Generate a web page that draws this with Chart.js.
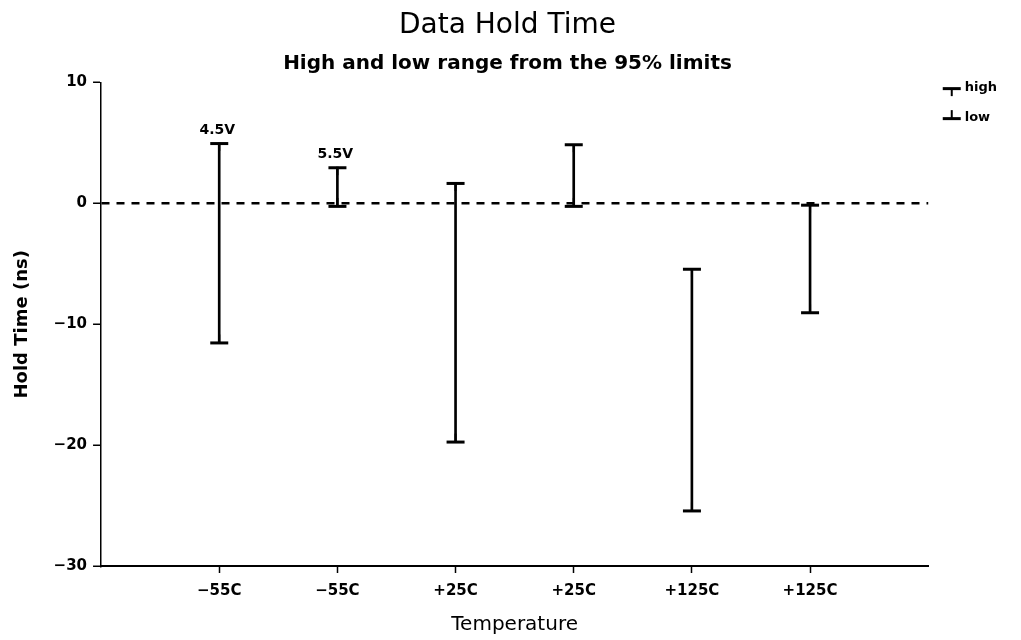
<!DOCTYPE html>
<html>
<head>
<meta charset="utf-8">
<script src="https://cdn.jsdelivr.net/npm/chart.js@4.4.1/dist/chart.umd.min.js"></script>
<style>
html, body { margin: 0; padding: 0; background: #fff; }
#wrap { width: 1021px; height: 640px; }
</style>
</head>
<body>
<div id="wrap"><canvas id="holdChart"></canvas></div>
<script>
const temps = ['−55C', '−55C', '+25C', '+25C', '+125C', '+125C'];
const highs = [5.0, 3.0, 1.7, 4.9, -5.4, -0.1];
const lows = [-11.5, -0.2, -19.7, -0.2, -25.4, -9.0];
const voltNotes = ['4.5V', '5.5V', '', '', '', ''];
const yTicks = [10, 0, -10, -20, -30];

const FONT = '"DejaVu Sans", sans-serif';

// cap marker: a bar with a short stub, up = stub hangs down (high), else stub points up (low)
function capImage(up) {
    const c = document.createElement('canvas');
    c.width = 20;
    c.height = 20;
    const g = c.getContext('2d');
    g.fillStyle = '#000';
    g.fillRect(1, 9, 18, 3);
    if (up) g.fillRect(9, 11, 2, 7);
    else g.fillRect(9, 2, 2, 8);
    return c;
}

const voltNotePlugin = {
    id: 'voltNotes',
    afterDatasetsDraw(chart) {
        const { ctx, scales: { x, y } } = chart;
        ctx.save();
        ctx.font = 'bold 14px ' + FONT;
        ctx.fillStyle = '#000';
        ctx.textAlign = 'center';
        ctx.textBaseline = 'bottom';
        voltNotes.forEach((txt, i) => {
            if (!txt) return;
            ctx.fillText(txt, x.getPixelForValue(i + 1) - 2, y.getPixelForValue(highs[i]) - 6);
        });
        ctx.restore();
    }
};

const ctx = document.getElementById('holdChart').getContext('2d');
new Chart(ctx, {
    type: 'bar',
    data: {
        datasets: [
            {
                label: 'range',
                data: temps.map((t, i) => ({ x: i + 1, y: [lows[i], highs[i]] })),
                backgroundColor: '#000',
                barThickness: 2
            },
            {
                type: 'scatter',
                label: 'high',
                data: temps.map((t, i) => ({ x: i + 1, y: highs[i] })),
                pointStyle: capImage(true),
                pointRadius: 10
            },
            {
                type: 'scatter',
                label: 'low',
                data: temps.map((t, i) => ({ x: i + 1, y: lows[i] })),
                pointStyle: capImage(false),
                pointRadius: 10
            }
        ]
    },
    options: {
        responsive: true,
        maintainAspectRatio: false,
        animation: false,
        layout: { padding: { left: 8, right: 14, top: 0, bottom: 1 } },
        plugins: {
            title: {
                display: true,
                text: 'Data Hold Time',
                color: '#000',
                font: { family: FONT, size: 28, weight: 'normal' },
                padding: { top: 9, bottom: 4 }
            },
            subtitle: {
                display: true,
                text: 'High and low range from the 95% limits',
                color: '#000',
                font: { family: FONT, size: 20, weight: 'bold' },
                padding: { top: 5, bottom: 7 }
            },
            legend: {
                position: 'right',
                align: 'start',
                title: {
                    display: true,
                    text: ' ',
                    font: { family: FONT, size: 13 },
                    padding: { top: 49, bottom: 0 }
                },
                labels: {
                    usePointStyle: true,
                    color: '#000',
                    font: { family: FONT, size: 13, weight: 'bold' },
                    padding: 17,
                    filter: item => item.datasetIndex > 0
                }
            },
            tooltip: { enabled: false }
        },
        scales: {
            x: {
                type: 'linear',
                min: 0,
                max: 7,
                offset: false,
                afterBuildTicks: axis => {
                    axis.ticks = temps.map((t, i) => ({ value: i + 1 }));
                },
                ticks: {
                    color: '#000',
                    font: { family: FONT, size: 15, weight: 'bold' },
                    padding: 9,
                    callback: v => temps[v - 1] || ''
                },
                grid: { offset: false, drawOnChartArea: false, tickLength: 7, tickColor: '#000', tickWidth: 1.5 },
                border: { color: '#000', width: 2 },
                title: {
                    display: true,
                    text: 'Temperature',
                    color: '#000',
                    font: { family: FONT, size: 20 },
                    padding: { top: 4, bottom: 2 }
                }
            },
            y: {
                min: -30,
                max: 10,
                afterBuildTicks: axis => {
                    axis.ticks = yTicks.map(v => ({ value: v }));
                },
                ticks: {
                    color: '#000',
                    font: { family: FONT, size: 15, weight: 'bold' },
                    padding: 6,
                    callback: v => String(v).replace('-', '−')
                },
                grid: {
                    color: c => (c.tick && c.tick.value === 0 ? '#000' : 'rgba(0,0,0,0)'),
                    lineWidth: 2.5,
                    tickLength: 8,
                    tickColor: '#000',
                    tickWidth: 1.5
                },
                border: { color: '#000', width: 1.5, dash: [8, 7] },
                title: {
                    display: true,
                    text: 'Hold Time (ns)',
                    color: '#000',
                    font: { family: FONT, size: 18, weight: 'bold' },
                    padding: { bottom: 14 }
                }
            }
        }
    },
    plugins: [voltNotePlugin]
});
</script>
</body>
</html>
